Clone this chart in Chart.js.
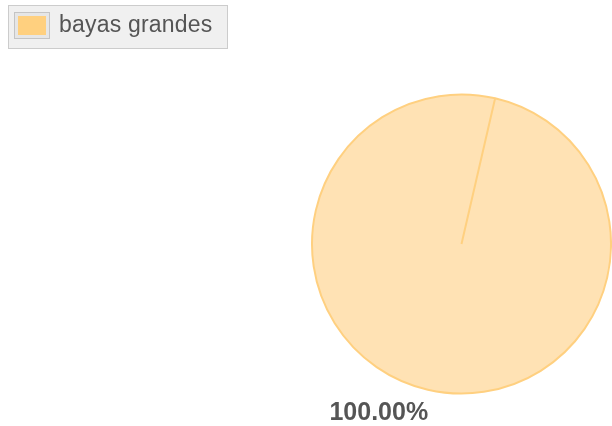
<!doctype html>
<html lang="es">
  <head>
    <meta charset="UTF-8">
    <title>bayas grandes</title>
    <style>
      html, body { margin: 0; padding: 0; background: #fff; }
      #wrap { width: 612px; height: 426px; position: relative; }
    </style>
  </head>
  <body>
    <div id="wrap"><canvas id="pie-chart"></canvas></div>

    <script src="https://cdn.jsdelivr.net/npm/chart.js@4/dist/chart.umd.min.js"></script>
    <script>
      // data
      var categories = ["bayas grandes"];
      var values = [100];
      var pctLabels = ["100.00%"];

      // legend box in the top-left corner
      const legendBox = {
        id: 'legendBox',
        afterDraw(chart) {
          const ctx = chart.ctx;
          ctx.save();
          ctx.fillStyle = '#f0f0f0';
          ctx.fillRect(8, 5, 219, 43);
          ctx.strokeStyle = '#cccccc';
          ctx.lineWidth = 1;
          ctx.strokeRect(8.5, 5.5, 219, 43);
          // swatch
          ctx.fillStyle = '#e6e6e6';
          ctx.fillRect(14, 12, 36, 27);
          ctx.strokeStyle = '#c4c4c4';
          ctx.strokeRect(14.5, 12.5, 35, 26);
          ctx.fillStyle = '#ffd07f';
          ctx.fillRect(18, 16, 28, 19);
          ctx.fillStyle = '#555555';
          ctx.font = '23px "Liberation Sans", Arial, sans-serif';
          ctx.letterSpacing = '0.2px';
          ctx.textBaseline = 'alphabetic';
          ctx.textAlign = 'left';
          ctx.fillText(categories[0], 59, 32);
          ctx.restore();
        }
      };

      // percent labels outside the slices
      const sliceLabels = {
        id: 'sliceLabels',
        afterDatasetsDraw(chart) {
          const ctx = chart.ctx;
          const meta = chart.getDatasetMeta(0);
          ctx.save();
          ctx.font = 'bold 25px "Liberation Sans", Arial, sans-serif';
          ctx.fillStyle = '#555555';
          ctx.textBaseline = 'middle';
          meta.data.forEach(function(arc, i) {
            const p = arc.getProps(['x', 'y', 'startAngle', 'endAngle', 'outerRadius'], true);
            const mid = (p.startAngle + p.endAngle) / 2;
            const r = p.outerRadius + 21;
            const x = p.x + Math.cos(mid) * r;
            const y = p.y + Math.sin(mid) * r;
            ctx.textAlign = Math.cos(mid) < 0 ? 'right' : 'left';
            ctx.fillText(pctLabels[i], x + 5, y + 3);
          });
          ctx.restore();
        }
      };

      new Chart(document.getElementById('pie-chart'), {
        type: 'pie',
        data: {
          labels: categories,
          datasets: [{
            data: values,
            backgroundColor: '#ffe2b4',
            borderColor: '#ffd080',
            borderWidth: 2
          }]
        },
        options: {
          responsive: true,
          maintainAspectRatio: false,
          animation: false,
          rotation: 13,
          layout: { padding: { left: 311, top: 62, right: 0, bottom: 0 } },
          plugins: {
            legend: { display: false },
            tooltip: { enabled: false }
          }
        },
        plugins: [legendBox, sliceLabels]
      });
    </script>
  </body>
</html>
